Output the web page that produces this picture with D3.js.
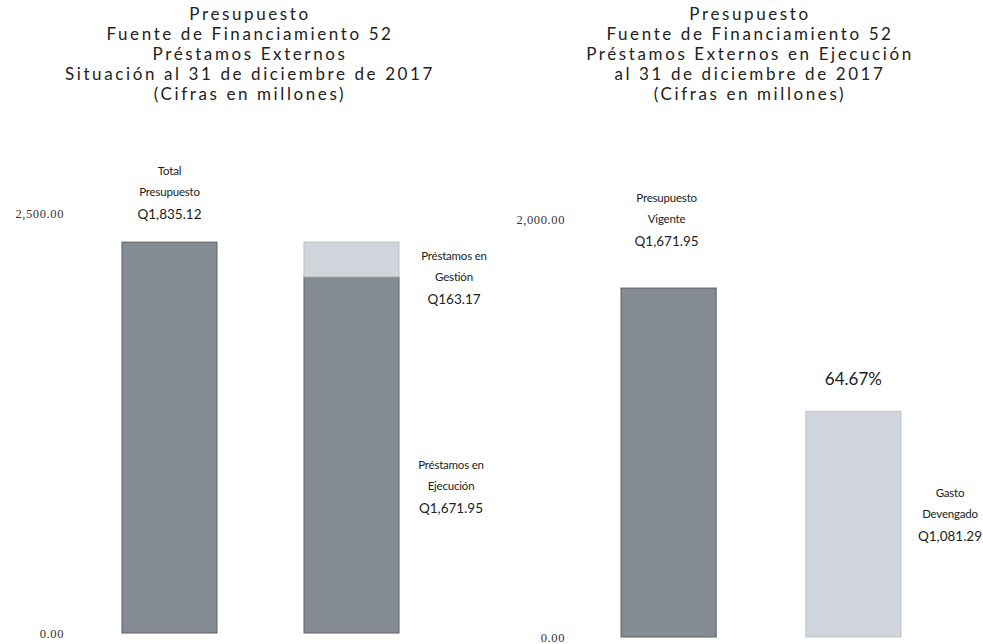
<!DOCTYPE html>
<html>
<head>
<meta charset="utf-8">
<script src="https://cdn.jsdelivr.net/npm/d3@7"></script>
<style>
  body { margin: 0; background: #fff; }
  svg { display: block; }
  .title { font-family: Lato, "Open Sans", sans-serif; font-size: 17px; letter-spacing: 2.6px; fill: #222; }
  .axis text { font-family: "Liberation Serif", serif; font-size: 12.5px; fill: #333; letter-spacing: 0.6px; }
  .lbl { font-family: Lato, "Open Sans", sans-serif; font-size: 11.5px; fill: #222; letter-spacing: -0.2px; }
  .val { font-family: Lato, "Open Sans", sans-serif; font-size: 13.5px; fill: #222; }
  .pct { font-family: Lato, "Open Sans", sans-serif; font-size: 17px; fill: #222; }
</style>
</head>
<body>
<svg id="chart"></svg>
<script>
// ---- data ----
const leftTitle = [
  "Presupuesto",
  "Fuente de Financiamiento 52",
  "Préstamos Externos",
  "Situación al 31 de diciembre de 2017",
  "(Cifras en millones)",
];
const rightTitle = [
  "Presupuesto",
  "Fuente de Financiamiento 52",
  "Préstamos Externos en Ejecución",
  "al 31 de diciembre de 2017",
  "(Cifras en millones)",
];

const leftCategories = ["total", "composicion"];
const totalPresupuesto = 1835.12;
const prestamosEjecucion = 1671.95;
const prestamosGestion = 163.17;
const leftTickValues = [0, 2000];
const leftTickLabels = ["0.00", "2,500.00"];

const rightCategories = ["vigente", "devengado"];
const rightValues = [1671.95, 1081.29];
const rightTickValues = [0, 2000];
const rightTickLabels = ["0.00", "2,000.00"];
const porcentajeEjecucion = "64.67%";

const labelTotal = ["Total", "Presupuesto"];
const labelGestion = ["Préstamos en", "Gestión"];
const labelEjecucion = ["Préstamos en", "Ejecución"];
const labelVigente = ["Presupuesto", "Vigente"];
const labelDevengado = ["Gasto", "Devengado"];

const fmtQ = (v) => "Q" + d3.format(",.2f")(v);

// ---- layout ----
const width = 983, height = 644;
const DARK = "#858b93", LIGHT = "#cfd5db", EDGE = "#5b6067";

const svg = d3.select("svg#chart").attr("width", width).attr("height", height);

function drawTitle(lines, cx) {
  svg.append("g")
    .selectAll("text")
    .data(lines)
    .join("text")
    .attr("class", "title")
    .attr("x", cx)
    .attr("y", (d, i) => 20 + i * 20)
    .attr("text-anchor", "middle")
    .text((d) => d);
}
drawTitle(leftTitle, 250);
drawTitle(rightTitle, 750);

function drawLabel(lines, value, cx, yTop) {
  const g = svg.append("g");
  g.selectAll("text.lbl")
    .data(lines)
    .join("text")
    .attr("class", "lbl")
    .attr("x", cx)
    .attr("y", (d, i) => yTop + i * 21)
    .attr("text-anchor", "middle")
    .text((d) => d);
  g.append("text")
    .attr("class", "val")
    .attr("x", cx)
    .attr("y", yTop + lines.length * 21 + 2)
    .attr("text-anchor", "middle")
    .text(fmtQ(value));
}

// ---- left chart ----
const xL = d3.scaleBand().domain(leftCategories).range([122, 399]).paddingInner(0.478).paddingOuter(0);
const yL = d3.scaleLinear().domain([0, 2000]).range([633, 207]);

svg.append("g")
  .attr("class", "axis")
  .attr("transform", "translate(64,0)")
  .call(
    d3.axisLeft(yL)
      .tickValues(leftTickValues)
      .tickSize(0)
      .tickPadding(0)
      .tickFormat((d, i) => leftTickLabels[i])
  )
  .call((g) => g.select(".domain").remove())
  .call((g) => g.selectAll(".tick").filter((d) => d > 0).select("text").attr("y", 6));

const leftStacks = [
  { key: "total", y0: 0, y1: totalPresupuesto, color: DARK },
  { key: "composicion", y0: 0, y1: prestamosEjecucion, color: DARK },
  { key: "composicion", y0: prestamosEjecucion, y1: prestamosEjecucion + prestamosGestion, color: LIGHT },
];

svg.append("g")
  .selectAll("rect")
  .data(leftStacks)
  .join("rect")
  .attr("x", (d) => xL(d.key))
  .attr("width", xL.bandwidth())
  .attr("y", (d) => yL(d.y1))
  .attr("height", (d) => yL(d.y0) - yL(d.y1))
  .attr("fill", (d) => d.color)
  .attr("stroke", (d) => (d.color === DARK ? EDGE : "#b9bfc5"))
  .attr("stroke-width", 1);

const cTotal = xL("total") + xL.bandwidth() / 2;
const rComp = xL("composicion") + xL.bandwidth();
drawLabel(labelTotal, totalPresupuesto, cTotal, yL(totalPresupuesto) - 67);
drawLabel(labelGestion, prestamosGestion, rComp + 55, 260);
drawLabel(labelEjecucion, prestamosEjecucion, rComp + 52, 469);

// ---- right chart ----
const xR = d3.scaleBand().domain(rightCategories).range([621, 901]).paddingInner(0.485).paddingOuter(0);
const yR = d3.scaleLinear().domain([0, 2000]).range([637, 219.6]);

svg.append("g")
  .attr("class", "axis")
  .attr("transform", "translate(565,0)")
  .call(
    d3.axisLeft(yR)
      .tickValues(rightTickValues)
      .tickSize(0)
      .tickPadding(0)
      .tickFormat((d, i) => rightTickLabels[i])
  )
  .call((g) => g.select(".domain").remove());

const rightColors = [DARK, LIGHT];
svg.append("g")
  .selectAll("rect")
  .data(rightValues)
  .join("rect")
  .attr("x", (d, i) => xR(rightCategories[i]))
  .attr("width", xR.bandwidth())
  .attr("y", (d) => yR(d))
  .attr("height", (d) => yR(0) - yR(d))
  .attr("fill", (d, i) => rightColors[i])
  .attr("stroke", (d, i) => (i === 0 ? EDGE : "#bfc5cb"))
  .attr("stroke-width", 1);

const cVig = xR("vigente") + xR.bandwidth() / 2;
const cDev = xR("devengado") + xR.bandwidth() / 2;
const rDev = xR("devengado") + xR.bandwidth();
drawLabel(labelVigente, rightValues[0], cVig - 2, yR(rightValues[0]) - 86);
drawLabel(labelDevengado, rightValues[1], rDev + 49, 497);

svg.append("text")
  .attr("class", "pct")
  .attr("x", cDev)
  .attr("y", yR(rightValues[1]) - 26)
  .attr("text-anchor", "middle")
  .text(porcentajeEjecucion);
</script>
</body>
</html>
